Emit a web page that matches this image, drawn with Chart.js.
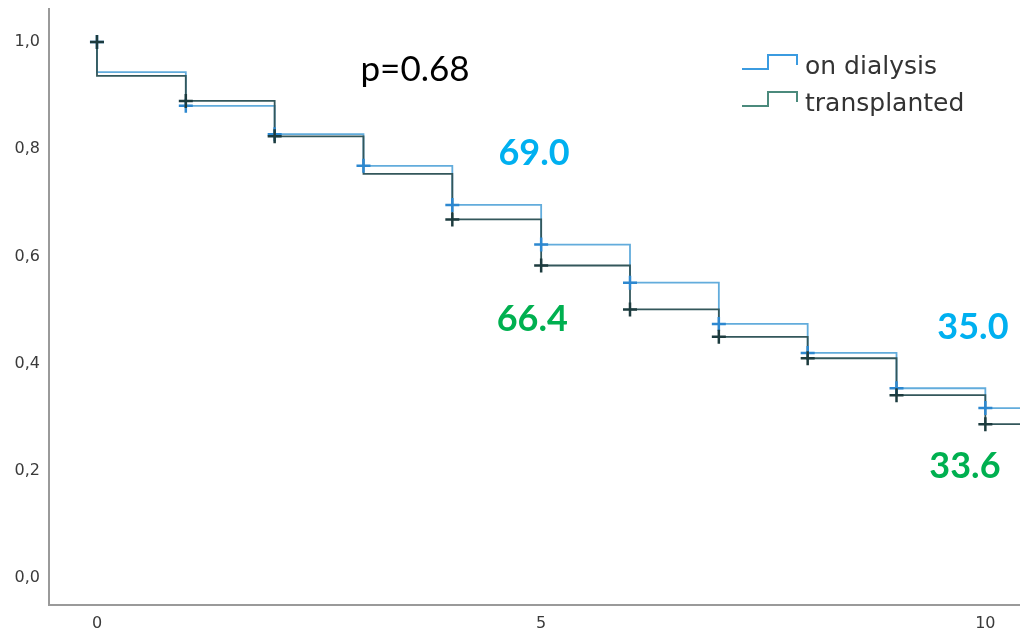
<!DOCTYPE html>
<html>
<head>
<meta charset="utf-8">
<script src="https://cdn.jsdelivr.net/npm/chart.js@4.4.1/dist/chart.umd.min.js"></script>
<style>
  html, body { margin: 0; padding: 0; background: #fff; }
  #wrap { width: 1020px; height: 635px; position: relative; }
</style>
</head>
<body>
<div id="wrap"><canvas id="km"></canvas></div>
<script>
// follow-up years where the curves step down
const years = [0, 1, 2, 3, 4, 5, 6, 7, 8, 9, 10];
// survival level held from each year until the next one
const dialysisSurv = [0.944, 0.881, 0.828, 0.769, 0.696, 0.622, 0.551, 0.474, 0.420, 0.354, 0.317];
const transplantSurv = [0.937, 0.890, 0.824, 0.754, 0.669, 0.583, 0.501, 0.450, 0.410, 0.341, 0.287];
// censor crosses (null = no cross at that year)
const dialysisMarks = [1.0, 0.881, 0.828, 0.769, 0.696, 0.622, 0.551, 0.474, 0.420, 0.354, 0.317];
const transplantMarks = [1.0, 0.890, 0.824, null, 0.669, 0.583, 0.501, 0.450, 0.410, 0.341, 0.287];
const startSurv = 1.0;

const yTicks = [0, 0.2, 0.4, 0.6, 0.8, 1.0];
const xTicks = [0, 5, 10];
const seriesNames = ['on dialysis', 'transplanted'];

const notes = [
  { text: 'p=0.68', x: 3.58, y: 0.948, color: '#000', font: '35px Lato' },
  { text: '69.0', x: 4.92, y: 0.793, color: '#00b0f0', font: 'bold 36px Lato' },
  { text: '66.4', x: 4.90, y: 0.483, color: '#00b050', font: 'bold 36px Lato' },
  { text: '35.0', x: 9.86, y: 0.468, color: '#00b0f0', font: 'bold 36px Lato' },
  { text: '33.6', x: 9.77, y: 0.209, color: '#00b050', font: 'bold 36px Lato' },
];

const X_MIN = -0.54, X_MAX = 10.39;
const Y_MIN = -0.0504, Y_MAX = 1.0616;

function stepPoints(surv) {
  const pts = [{ x: years[0], y: startSurv }];
  years.forEach((t, i) => pts.push({ x: t, y: surv[i] }));
  pts.push({ x: X_MAX + 0.2, y: surv[surv.length - 1] });
  return pts;
}
function markPoints(marks) {
  return years.map((t, i) => ({ x: t, y: marks[i] })).filter((p) => p.y !== null);
}
function noPadding(s) {
  s.paddingTop = 0;
  s.paddingBottom = 0;
  s.paddingLeft = 0;
  s.paddingRight = 0;
}

const LINE_BLUE = '#62acdc';
const LINE_DARK = '#33575b';
const MARK_BLUE = '#2d88d0';
const MARK_DARK = '#1c3b3e';
const LEGEND_COLORS = ['#3b9be0', '#4b8a7c'];

const notesPlugin = {
  id: 'notes',
  afterDatasetsDraw(chart) {
    const { ctx, scales } = chart;
    ctx.save();
    ctx.textAlign = 'center';
    ctx.textBaseline = 'middle';
    for (const n of notes) {
      ctx.font = n.font;
      ctx.fillStyle = n.color;
      ctx.fillText(n.text, scales.x.getPixelForValue(n.x), scales.y.getPixelForValue(n.y));
    }
    ctx.restore();
  },
};

const legendPlugin = {
  id: 'stepLegend',
  afterDraw(chart) {
    const ctx = chart.ctx;
    ctx.save();
    seriesNames.forEach((name, i) => {
      const y0 = 69 + i * 37;
      ctx.strokeStyle = LEGEND_COLORS[i];
      ctx.lineWidth = 2;
      ctx.beginPath();
      ctx.moveTo(742, y0);
      ctx.lineTo(768, y0);
      ctx.lineTo(768, y0 - 14);
      ctx.lineTo(797, y0 - 14);
      ctx.lineTo(797, y0 - 4);
      ctx.stroke();
      ctx.fillStyle = '#333';
      ctx.font = '25px "DejaVu Sans"';
      ctx.textAlign = 'left';
      ctx.textBaseline = 'middle';
      ctx.fillText(name, 805, y0 - 2);
    });
    ctx.restore();
  },
};

new Chart(document.getElementById('km'), {
  type: 'scatter',
  data: {
    datasets: [
      {
        label: seriesNames[0],
        type: 'line',
        data: stepPoints(dialysisSurv),
        stepped: 'before',
        borderColor: LINE_BLUE,
        borderWidth: 1.8,
        pointRadius: 0,
        fill: false,
        order: 3,
      },
      {
        label: seriesNames[1],
        type: 'line',
        data: stepPoints(transplantSurv),
        stepped: 'before',
        borderColor: LINE_DARK,
        borderWidth: 1.8,
        pointRadius: 0,
        fill: false,
        order: 2,
      },
      {
        label: 'dialysis censored',
        data: markPoints(dialysisMarks),
        pointStyle: 'cross',
        pointRadius: 7,
        borderColor: MARK_BLUE,
        borderWidth: 2.5,
        order: 1,
      },
      {
        label: 'transplanted censored',
        data: markPoints(transplantMarks),
        pointStyle: 'cross',
        pointRadius: 7,
        borderColor: MARK_DARK,
        borderWidth: 2.5,
        order: 0,
      },
    ],
  },
  options: {
    animation: false,
    responsive: true,
    maintainAspectRatio: false,
    layout: { autoPadding: false, padding: { top: 9, right: 0, left: 0, bottom: 0 } },
    plugins: {
      legend: { display: false },
      tooltip: { enabled: false },
    },
    scales: {
      x: {
        type: 'linear',
        min: X_MIN,
        max: X_MAX,
        afterBuildTicks: (s) => { s.ticks = xTicks.map((v) => ({ value: v })); },
        afterFit: (s) => { s.height = 30; noPadding(s); },
        grid: { display: false, drawTicks: false },
        border: { display: true, color: '#9a9a9a', width: 2 },
        ticks: { color: '#3a3a3a', padding: 9, maxRotation: 0, font: { family: 'DejaVu Sans', size: 16 } },
      },
      y: {
        type: 'linear',
        min: Y_MIN,
        max: Y_MAX,
        afterBuildTicks: (s) => { s.ticks = yTicks.map((v) => ({ value: v })); },
        afterFit: (s) => { s.width = 49; noPadding(s); },
        grid: { display: false, drawTicks: false },
        border: { display: true, color: '#9a9a9a', width: 2 },
        ticks: {
          color: '#3a3a3a',
          padding: 9,
          font: { family: 'DejaVu Sans', size: 16 },
          callback: (v) => v.toFixed(1).replace('.', ','),
        },
      },
    },
  },
  plugins: [notesPlugin, legendPlugin],
});
</script>
</body>
</html>
